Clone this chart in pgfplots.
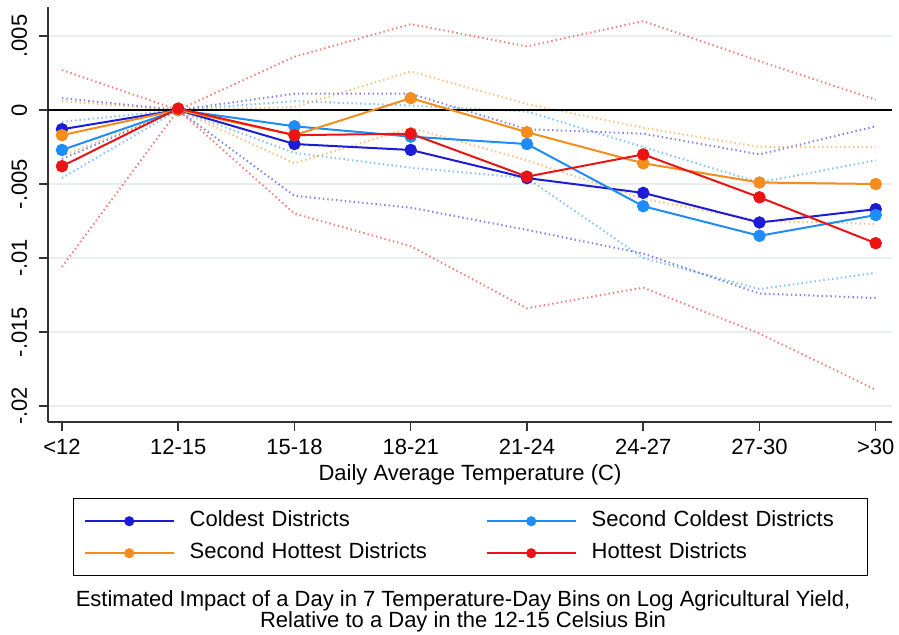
\documentclass[border=0pt]{standalone}
\usepackage{fontspec}
\setmainfont{Liberation Sans}
\usepackage{pgfplots}
\pgfplotsset{compat=1.18}
\usepackage{pgfplotstable}
\definecolor{cA}{RGB}{28,28,214}
\definecolor{cB}{RGB}{30,140,250}
\definecolor{cC}{RGB}{245,140,30}
\definecolor{cD}{RGB}{235,20,20}
\definecolor{gridc}{RGB}{232,238,240}

% columns: bin index, estimate, upper CI, lower CI
\pgfplotstableread{
x   est      up       lo
0  -0.0013   0.0008  -0.0033
1   0.0000   0.0000   0.0000
2  -0.0023   0.0011  -0.0058
3  -0.0027   0.0011  -0.0066
4  -0.0046  -0.0013  -0.0081
5  -0.0056  -0.0016  -0.0097
6  -0.0076  -0.0030  -0.0124
7  -0.0067  -0.0011  -0.0127
}\coldest
\pgfplotstableread{
x   est      up       lo
0  -0.0027  -0.0008  -0.0046
1   0.0000   0.0000   0.0000
2  -0.0011   0.0006  -0.0029
3  -0.0018   0.0003  -0.0039
4  -0.0023  -0.0001  -0.0046
5  -0.0065  -0.0025  -0.0100
6  -0.0085  -0.0049  -0.0121
7  -0.0071  -0.0034  -0.0110
}\seccold
\pgfplotstableread{
x   est      up       lo
0  -0.0017   0.0006  -0.0031
1   0.0000   0.0000   0.0000
2  -0.0017   0.0002  -0.0036
3   0.0008   0.0026  -0.0012
4  -0.0015   0.0004  -0.0034
5  -0.0036  -0.0012  -0.0060
6  -0.0049  -0.0025  -0.0075
7  -0.0050  -0.0025  -0.0077
}\sechot
\pgfplotstableread{
x   est      up       lo
0  -0.0038   0.0027  -0.0106
1   0.0001   0.0000   0.0000
2  -0.0017   0.0036  -0.0070
3  -0.0016   0.0058  -0.0092
4  -0.0045   0.0043  -0.0134
5  -0.0030   0.0060  -0.0120
6  -0.0059   0.0033  -0.0151
7  -0.0090   0.0007  -0.0189
}\hottest

\begin{document}
\fontsize{11}{11}\selectfont
\begin{tikzpicture}
\useasboundingbox (0,0) rectangle (449.5pt,317.5pt);
\begin{axis}[
  at={(24pt,106.5pt)}, anchor=south west,
  scale only axis, width=422pt, height=207.5pt,
  xmin=-0.12, xmax=7.14, ymin=-0.02108, ymax=0.00696,
  axis x line=bottom, axis y line=left,
  axis line style={-, draw=black!80, line width=0.75pt},
  xtick={0,1,2,3,4,5,6,7},
  xticklabels={<12,12-15,15-18,18-21,21-24,24-27,27-30,>30},
  ytick={-0.02,-0.015,-0.01,-0.005,0,0.005},
  yticklabels={-.02,-.015,-.01,-.005,0,.005},
  scaled y ticks=false, scaled x ticks=false,
  ymajorgrids, grid style={draw=gridc, line width=0.75pt},
  tick align=outside, major tick length=4.5pt,
  tick style={draw=black!80, line width=0.75pt},
  /pgf/number format/assume math mode=true,
  ticklabel style={font=\fontsize{11}{11}\selectfont},
  xticklabel style={anchor=base, inner sep=0pt, yshift=-12pt},
  yticklabel style={anchor=base, inner sep=0pt, xshift=-6pt, rotate=90},
  xlabel={Daily Average Temperature (C)},
  xlabel style={at={(axis description cs:0.5,-0.141)}, anchor=base, inner sep=0pt, font=\fontsize{11}{11}\selectfont},
  legend columns=2,
  legend cell align=left,
  legend style={at={(0.0296,-0.1831)}, anchor=north west, draw=black, line width=0.75pt,
    inner xsep=5pt, inner ysep=6pt, font=\fontsize{11}{11}\selectfont,
    column sep=7.5pt, row sep=5.5pt,
    nodes={inner sep=0pt, text height=8pt, text depth=2.5pt},
    /tikz/every even column/.append style={column sep=15pt, text width=133pt, align=left}},
  legend image code/.code={\draw[mark repeat=2,mark phase=2,#1] plot coordinates {(0pt,0pt) (22.25pt,0pt) (44.5pt,0pt)};},
  legend image post style={mark size=2pt},
  ci/.style={line width=1pt, dash pattern=on 0.7pt off 1.5pt, opacity=0.55, forget plot},
  est/.style={line width=1pt, mark=*, mark size=2.6pt},
]
% confidence bounds
\addplot[ci, cA] table[x=x, y=up] {\coldest};
\addplot[ci, cA] table[x=x, y=lo] {\coldest};
\addplot[ci, cB] table[x=x, y=up] {\seccold};
\addplot[ci, cB] table[x=x, y=lo] {\seccold};
\addplot[ci, cC] table[x=x, y=up] {\sechot};
\addplot[ci, cC] table[x=x, y=lo] {\sechot};
\addplot[ci, cD] table[x=x, y=up] {\hottest};
\addplot[ci, cD] table[x=x, y=lo] {\hottest};
% zero line
\addplot[black, line width=1pt, forget plot] coordinates {(-0.12,0) (7.14,0)};
% estimates
\addplot[est, cA, mark options={fill=cA, draw=cA}] table[x=x, y=est] {\coldest};
\addlegendentry{Coldest Districts}
\addplot[est, cB, mark options={fill=cB, draw=cB}] table[x=x, y=est] {\seccold};
\addlegendentry{Second Coldest Districts}
\addplot[est, cC, mark options={fill=cC, draw=cC}] table[x=x, y=est] {\sechot};
\addlegendentry{Second Hottest Districts}
\addplot[est, cD, mark options={fill=cD, draw=cD}] table[x=x, y=est] {\hottest};
\addlegendentry{Hottest Districts}
\end{axis}
\node[anchor=base, inner sep=0pt] at (231.5pt,14pt) {Estimated Impact of a Day in 7 Temperature-Day Bins on Log Agricultural Yield,};
\node[anchor=base, inner sep=0pt] at (231.5pt,3.5pt) {Relative to a Day in the 12-15 Celsius Bin};
\end{tikzpicture}
\end{document}
